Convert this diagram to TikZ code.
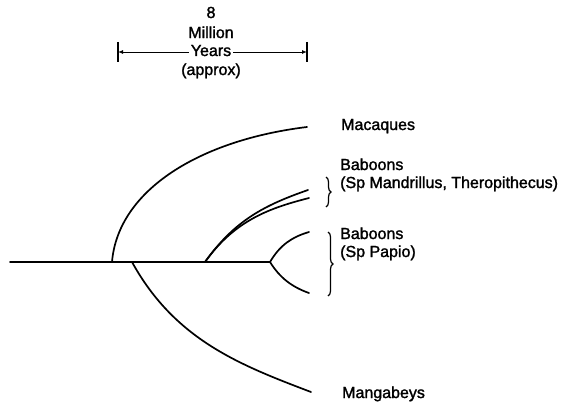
\documentclass[tikz,border=0pt]{standalone}
\usepackage{fontspec}
\setmainfont{Liberation Sans}
\newfontfamily\labelfont{Liberation Sans}[FakeBold=1.6]
\usetikzlibrary{arrows.meta,positioning,calc,decorations.pathreplacing}
\tikzset{
  taxon/.style={anchor=base west, inner sep=0pt, align=left,
    font=\labelfont\fontsize{16}{18}\selectfont},
  scaletext/.style={anchor=base, inner sep=0pt, align=center,
    font=\labelfont\fontsize{16}{19}\selectfont},
  branch/.style={line width=1.7pt, line cap=round},
  scalearrow/.style={-{Latex[length=5pt,width=4pt]}, line width=0.9pt},
  tickmark/.style={line width=1.4pt},
  group/.style={decorate, decoration={brace, amplitude=5pt}, line width=1.2pt},
}

\begin{document}
\begin{tikzpicture}[x=1pt, y=-1pt]
\useasboundingbox (0,0) rectangle (567,404);

% scale bar
\node[scaletext] (eight) at (211,18) {8};
\node[scaletext] (million) at (211,38) {Million};
\node[scaletext, inner xsep=2pt] (years) at (211,56) {Years};
\node[scaletext] (approx) at (211,75) {(approx)};
\coordinate (lend) at (118,52);
\coordinate (rend) at (307,52);
\draw[scalearrow] (years.west |- lend) -- (lend);
\draw[scalearrow] (years.east |- rend) -- (rend);
\draw[tickmark] ($(lend)+(0,-10)$) -- ($(lend)+(0,10)$);
\draw[tickmark] ($(rend)+(0,-10)$) -- ($(rend)+(0,10)$);

% tree points
\coordinate (root) at (10,262);
\coordinate (macfork) at (112,262);
\coordinate (mangfork) at (132,262);
\coordinate (mandfork) at (205,262);
\coordinate (papfork) at (270,262);
\coordinate (mactip) at (307,127);
\coordinate (mangtip) at (311,392);
\coordinate (mandtipa) at (308,190);
\coordinate (mandtipb) at (309,198);
\coordinate (paptipa) at (309,232);
\coordinate (paptipb) at (309,293);

% labels
\node[taxon] (macaques) at (341,130) {Macaques};
\node[taxon] (mandrill) at (340,188) {Baboons\\(Sp Mandrillus, Theropithecus)};
\node[taxon] (papio) at (340,257) {Baboons\\(Sp Papio)};
\node[taxon] (mangabeys) at (342,398) {Mangabeys};

% branches
\draw[branch] (root) -- (papfork);
\draw[branch] (macfork) .. controls (118,190) and (200,140) .. (mactip);
\draw[branch] (mangfork) .. controls (175,340) and (240,365) .. (mangtip);
\draw[branch] (mandfork) .. controls (235,220) and (265,205) .. (mandtipa);
\draw[branch] (mandfork) .. controls (235,220) and (270,208) .. (mandtipb);
\draw[branch] (papfork) .. controls (280,245) and (292,237) .. (paptipa);
\draw[branch] (papfork) .. controls (280,278) and (292,287) .. (paptipb);

% braces
\draw[group] (326,177) -- (326,207);
\draw[group] (328,232) -- (328,296);
\end{tikzpicture}
\end{document}
